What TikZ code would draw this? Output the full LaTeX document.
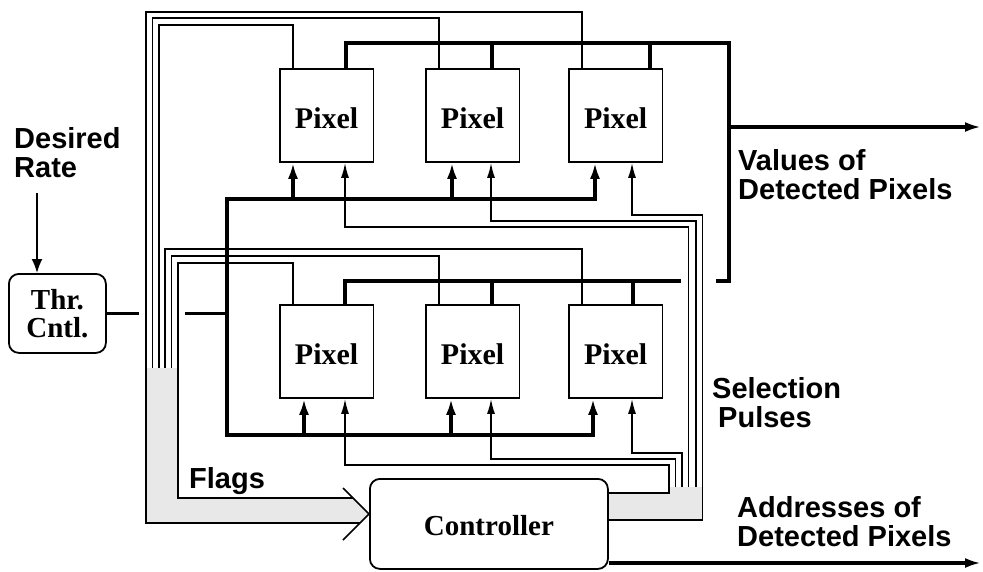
\documentclass[tikz,border=0pt]{standalone}
\usepackage{fontspec}
\setmainfont{Liberation Serif}
\setsansfont{Liberation Sans}
\usetikzlibrary{arrows.meta}
\begin{document}
\begin{tikzpicture}[x=1pt,y=-1pt,
  wire/.style={line width=1.7pt},
  bus/.style={line width=3.4pt},
  boxfont/.style={font=\fontsize{29}{28}\selectfont\bfseries},
  pix/.style={draw,line width=1.8pt,minimum width=93.5pt,minimum height=93pt,inner sep=0pt,
    anchor=north west,font=\fontsize{30}{30}\selectfont\bfseries,text height=27pt,text depth=0pt},
  rbox/.style={draw,line width=1.8pt,rounded corners=10pt,inner sep=0pt,anchor=north west,boxfont},
  lbl/.style={font=\sffamily\bfseries\fontsize{29}{29}\selectfont,anchor=base west,inner sep=0pt},
  tipA/.style={-{Latex[length=16pt,width=10pt]}},
  tipB/.style={-{Latex[length=15pt,width=8pt]}},
  stip/.style={fill=black!9},
]
\useasboundingbox (0,0) rectangle (983,571);

% stippled bus bundles
\fill[stip] (146,368) -- (178,368) -- (178,498) -- (353,498) -- (369,514) -- (360,523) -- (146,523) -- cycle;
\fill[stip] (607,493) -- (669,493) -- (669,487) -- (702.5,487) -- (702.5,520) -- (607,520) -- cycle;

% pixels
\node[pix] (P1) at (279,68) {Pixel};
\node[pix] (P2) at (425,68) {Pixel};
\node[pix] (P3) at (568,68) {Pixel};
\node[pix] (P4) at (279,304) {Pixel};
\node[pix] (P5) at (425,304) {Pixel};
\node[pix] (P6) at (568,304) {Pixel};

% threshold control and controller
\node[rbox,minimum width=97pt,minimum height=79pt,align=center] (thr) at (8,273) {Thr.\\Cntl.};
\node[rbox,minimum width=238pt,minimum height=90pt,text height=24pt,text depth=0pt] (ctrl) at (369,478) {Controller};

% labels
\node[lbl] (dr) at (14,148) {\begin{tabular}[t]{@{}l@{}}Desired\\Rate\end{tabular}};
\node[lbl] (vl) at (738,170) {\begin{tabular}[t]{@{}l@{}}Values of\\Detected Pixels\end{tabular}};
\node[lbl] (sl) at (712,398) {\begin{tabular}[t]{@{}l@{}}Selection\\\hspace*{6pt}Pulses\end{tabular}};
\node[lbl] (al) at (737,517) {\begin{tabular}[t]{@{}l@{}}Addresses of\\Detected Pixels\end{tabular}};
\node[lbl] (fl) at (189,488) {Flags};

% desired rate input
\coordinate (drs) at (37,193);
\draw[wire,-{Latex[length=14pt,width=11pt]}] (drs) -- (37,0 |- thr.north);

% flags: pixel tops (left) to controller
\draw[wire] (293,0 |- P1.north) |- (159,25) -- (159,368);
\draw[wire] (439,0 |- P2.north) |- (152.5,18) -- (152.5,368);
\draw[wire] (582,0 |- P3.north) |- (146,12) -- (146,523) -- (360,523);
\draw[wire] (293,0 |- P4.north) |- (178,263) -- (178,498) -- (353,498);
\draw[wire] (439,0 |- P5.north) |- (171.5,256) -- (171.5,368);
\draw[wire] (582,0 |- P6.north) |- (165,249) -- (165,368);
\coordinate (chtip) at (ctrl.west |- 0,514);
\draw[wire] (343,488) -- (chtip) -- (343,540);

% values of detected pixels
\draw[bus] (346,0 |- P1.north) |- (729,43) -- (729,281) -- (716,281);
\draw[bus] (492,0 |- P2.north) -- (492,43);
\draw[bus] (650,0 |- P3.north) -- (650,43);
\draw[bus] (345,0 |- P4.north) |- (681,281);
\draw[bus] (492,0 |- P5.north) -- (492,281);
\draw[bus] (633,0 |- P6.north) -- (633,281);
\coordinate (vout) at (981,127);
\draw[bus,tipA] (729,127) -- (vout);

% threshold distribution
\draw[bus] (thr.east) -- (139,0 |- thr.east);
\draw[bus] (185,0 |- thr.east) -- (227,0 |- thr.east);
\draw[bus,{Latex[length=16pt,width=10pt]}-{Latex[length=16pt,width=10pt]}]
  (595,0 |- P3.south) |- (227,199) -- (227,435) -| (593,0 |- P6.south);
\draw[bus,tipA] (293,199) -- (293,0 |- P1.south);
\draw[bus,tipA] (452,199) -- (452,0 |- P2.south);
\draw[bus,tipA] (304,435) -- (304,0 |- P4.south);
\draw[bus,tipA] (451,435) -- (451,0 |- P5.south);

% selection pulses: controller to pixels
\draw[wire,tipB] (ctrl.east |- 0,493) -| (669,465) -| (345,0 |- P4.south);
\draw[wire,tipB] (675.5,487) |- (491,459) -- (491,0 |- P5.south);
\draw[wire,tipB] (682,487) |- (632,453) -- (632,0 |- P6.south);
\draw[wire,tipB] (688.5,487) |- (345,227) -- (345,0 |- P1.south);
\draw[wire,tipB] (696,487) |- (491,221) -- (491,0 |- P2.south);
\draw[wire,tipB] (ctrl.east |- 0,520) -| (702.5,215) -| (632,0 |- P3.south);

% addresses output
\coordinate (aout) at (981,563);
\draw[bus,tipA] (ctrl.east |- 0,563) -- (aout);
\end{tikzpicture}
\end{document}
